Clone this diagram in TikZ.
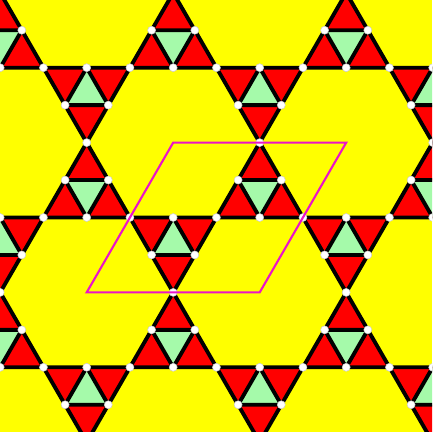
\documentclass[tikz,border=0pt]{standalone}
\usepackage{tikz}
\usetikzlibrary{calc}

\definecolor{hexyellow}{RGB}{255,255,0}
\definecolor{cornerred}{RGB}{255,0,0}
\definecolor{midgreen}{RGB}{165,250,170}
\definecolor{cellpink}{RGB}{235,20,200}

% one big triangle: three red corners, green middle
\newcommand{\kagtri}[3]{%
  \coordinate (ta) at (#1); \coordinate (tb) at (#2); \coordinate (tc) at (#3);
  \coordinate (mab) at ($(ta)!0.5!(tb)$);
  \coordinate (mbc) at ($(tb)!0.5!(tc)$);
  \coordinate (mca) at ($(tc)!0.5!(ta)$);
  \fill[corner] (ta) -- (mab) -- (mca) -- cycle;
  \fill[corner] (tb) -- (mbc) -- (mab) -- cycle;
  \fill[corner] (tc) -- (mca) -- (mbc) -- cycle;
  \fill[centre] (mab) -- (mbc) -- (mca) -- cycle;
  \draw[shadowedge] (ta) -- (tb) -- (tc) -- cycle;
  \draw[edge] (ta) -- (tb) -- (tc) -- cycle (mab) -- (mbc) -- (mca) -- cycle;
}

\begin{document}
\begin{tikzpicture}[x=0.02cm, y=-0.02cm,
  corner/.style={fill=cornerred},
  centre/.style={fill=midgreen},
  edge/.style={draw=black, line width=2.2pt, line join=round},
  shadowedge/.style={draw=black!80!red, line width=0.7pt, shift={(3.6,1.2)}},
  dot/.style={fill=white, draw=gray!40, line width=0.3pt},
  cell/.style={draw=cellpink, line width=1.2pt, line join=miter}]
\useasboundingbox (0,0) rectangle (432,432);
\clip (0,0) rectangle (432,432);
\fill[hexyellow] (0,0) rectangle (432,432);

% up and down triangles
\foreach \j in {-1,0,1}{
  \foreach \i in {-2,...,3}{
    \coordinate (p) at ({86.7+173*\i+86.5*\j},{142.6+149.8*\j});
    \coordinate (pl) at ($(p)+(-43.25,74.9)$);
    \coordinate (pr) at ($(p)+(43.25,74.9)$);
    \coordinate (prr) at ($(p)+(129.75,74.9)$);
    \coordinate (pd) at ($(p)+(86.5,149.8)$);
    \kagtri{p}{pl}{pr}
    \kagtri{pr}{prr}{pd}
  }
}

% vertices and edge midpoints
\foreach \j in {-1,0,1}{
  \foreach \i in {-2,...,3}{
    \coordinate (p) at ({86.7+173*\i+86.5*\j},{142.6+149.8*\j});
    \foreach \dx/\dy in {0/0,-21.6/37.45,21.6/37.45,-43.25/74.9,0/74.9,
                         43.25/74.9,86.5/74.9,64.9/112.35,108.1/112.35}
      \filldraw[dot] ($(p)+(\dx,\dy)$) circle[radius=0.08cm];
  }
}

% unit cell
\draw[cell] (86.7,292.4) -- (259.7,292.4) -- (346.2,142.6) -- (173.2,142.6) -- cycle;
\end{tikzpicture}
\end{document}
